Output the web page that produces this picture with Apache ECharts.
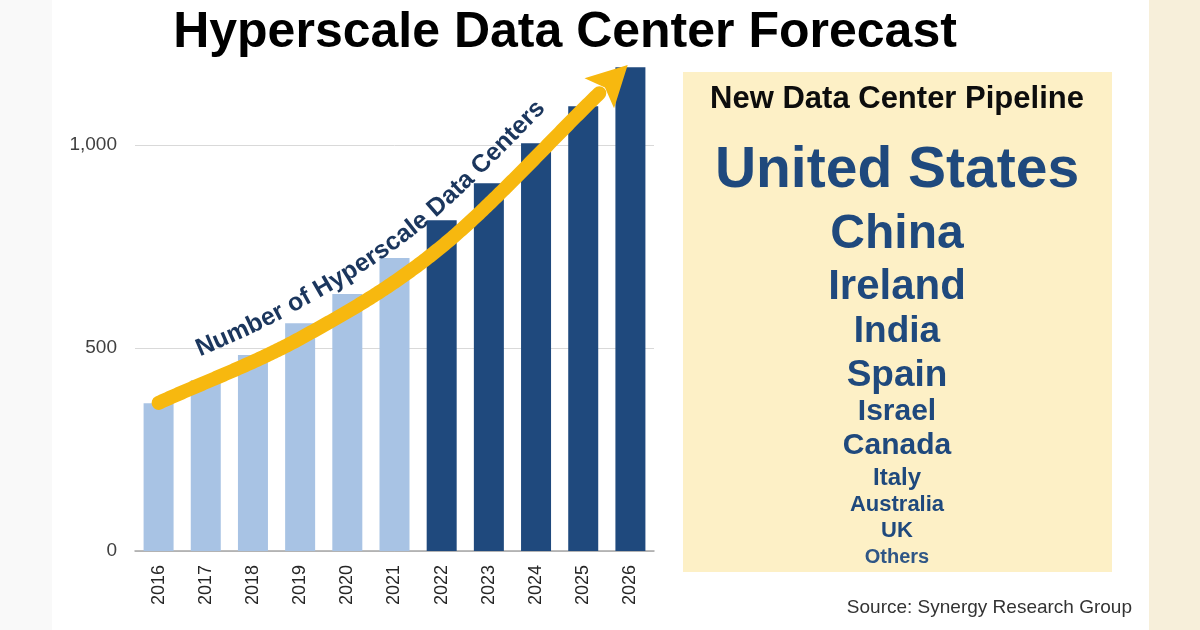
<!DOCTYPE html>
<html><head><meta charset="utf-8">
<script src="https://cdn.jsdelivr.net/npm/echarts@6/dist/echarts.min.js"></script>
<style>html,body{margin:0;padding:0;background:#fff}#c{width:1200px;height:630px}</style>
</head><body><div id="c"></div>
<script>
// ---------- data ----------
const titleText = 'Hyperscale Data Center Forecast';
const years = ['2016','2017','2018','2019','2020','2021','2022','2023','2024','2025','2026'];
const dataCenters = [364, 421, 483, 561, 633, 722, 815, 906, 1005, 1096, 1192];
const forecastFrom = '2022';
const yTicks = [0, 500, 1000];
const arrowLabel = 'Number of Hyperscale Data Centers';
// arrow path anchors in data units: [category index, value]; the last one is where the shaft meets the head
const arrowAnchors = [[0, 365], [3.05, 527], [6.02, 752], [9.34, 1128]];
const pipelineTitle = 'New Data Center Pipeline';
const countries = ['United States','China','Ireland','India','Spain','Israel','Canada','Italy','Australia','UK','Others'];
const sourceText = 'Source: Synergy Research Group';

// ---------- styles ----------
const FONT = '"Liberation Sans", Arial, Helvetica, sans-serif';
const LIGHT = '#a8c3e4', DARK = '#1f497d', YELLOW = '#f7b80f', NAVY = '#1b365d';
const countrySizes = [57, 48, 42, 37, 37, 30, 30, 24, 22, 22, 20];
const countryY = [171, 235, 287, 332, 376, 412, 446, 478, 505, 531, 557];
const countryColors = ['#1f497d','#1f497d','#1f497d','#1f497d','#1f497d','#1f497d','#1f497d','#1f497d','#1f497d','#1f497d','#2f5686'];

const chart = echarts.init(document.getElementById('c'), null, {renderer: 'canvas'});
const option = {
  animation: false,
  backgroundColor: '#ffffff',
  grid: {left: 135, right: 1200 - 654, top: 64, bottom: 79},
  xAxis: {
    type: 'category', data: years,
    axisTick: {show: false},
    axisLine: {lineStyle: {color: '#a6a6a6', width: 1.5}},
    axisLabel: {rotate: 90, fontSize: 18, color: '#262626', fontFamily: FONT, margin: 14}
  },
  yAxis: {
    type: 'value', min: 0, max: 1200, interval: 500,
    axisLine: {show: false}, axisTick: {show: false},
    splitLine: {show: true, lineStyle: {color: ['#d9d9d9','#d9d9d9','#d9d9d9','rgba(0,0,0,0)'], width: 1}},
    axisLabel: {
      formatter: v => yTicks.includes(v) ? v.toLocaleString('en-US') : '',
      fontSize: 19, color: '#404040', fontFamily: FONT, margin: 18
    }
  },
  series: [{
    type: 'bar', barWidth: 30,
    data: dataCenters.map((v, i) => ({value: v, itemStyle: {color: years[i] >= forecastFrom ? DARK : LIGHT}}))
  }]
};
chart.setOption(option);

// ---------- annotations ----------
function px(idx, val) {
  const x0 = chart.convertToPixel({xAxisIndex: 0}, years[0]);
  const x1 = chart.convertToPixel({xAxisIndex: 0}, years[years.length - 1]);
  return [x0 + (x1 - x0) * idx / (years.length - 1), chart.convertToPixel({yAxisIndex: 0}, val)];
}
const A = arrowAnchors.map(a => px(a[0], a[1]));
// Catmull-Rom sampling through anchors
const path = [];
(function () {
  const n = A.length, steps = 80;
  const get = i => A[Math.max(0, Math.min(n - 1, i))];
  for (let i = 0; i < n - 1; i++) {
    const p0 = i === 0 ? [2 * A[0][0] - A[1][0], 2 * A[0][1] - A[1][1]] : get(i - 1);
    const p1 = get(i), p2 = get(i + 1);
    const p3 = i + 2 > n - 1 ? [2 * A[n - 1][0] - A[n - 2][0], 2 * A[n - 1][1] - A[n - 2][1]] : get(i + 2);
    for (let s = 0; s < steps; s++) {
      const t = s / steps, t2 = t * t, t3 = t2 * t;
      const f = k => 0.5 * ((2 * p1[k]) + (-p0[k] + p2[k]) * t + (2 * p0[k] - 5 * p1[k] + 4 * p2[k] - p3[k]) * t2 + (-p0[k] + 3 * p1[k] - 3 * p2[k] + p3[k]) * t3);
      path.push([f(0), f(1)]);
    }
  }
  path.push(A[n - 1].slice());
})();

const graphics = [];
graphics.push({type: 'rect', silent: true, z: -10, shape: {x: 0, y: 0, width: 52, height: 630}, style: {fill: '#f9f9f9'}});
graphics.push({type: 'rect', silent: true, z: -10, shape: {x: 1149, y: 0, width: 51, height: 630}, style: {fill: '#f7efda'}});
graphics.push({type: 'rect', silent: true, z: -5, shape: {x: 683, y: 72, width: 429, height: 500}, style: {fill: '#fdf0c6'}});
graphics.push({type: 'text', silent: true, x: 565, y: 33, style: {text: titleText, fontSize: 50, fontWeight: 'bold', fontFamily: FONT, fill: '#000', align: 'center', verticalAlign: 'middle', textAlign: 'center', textVerticalAlign: 'middle'}});
graphics.push({type: 'text', silent: true, x: 897, y: 99, style: {text: pipelineTitle, fontSize: 31, fontWeight: 'bold', fontFamily: FONT, fill: '#0d0d0d', align: 'center', verticalAlign: 'middle', textAlign: 'center', textVerticalAlign: 'middle'}});
countries.forEach((c, i) => {
  graphics.push({type: 'text', silent: true, x: 897, y: countryY[i], style: {text: c, fontSize: countrySizes[i], fontWeight: 'bold', fontFamily: FONT, fill: countryColors[i], align: 'center', verticalAlign: 'middle', textAlign: 'center', textVerticalAlign: 'middle'}});
});
graphics.push({type: 'text', silent: true, x: 1132, y: 608, style: {text: sourceText, fontSize: 19, fontFamily: FONT, fill: '#333333', align: 'right', verticalAlign: 'middle', textAlign: 'right', textVerticalAlign: 'middle'}});

// shaft
graphics.push({type: 'polyline', silent: true, z: 50, shape: {points: path},
  style: {stroke: YELLOW, lineWidth: 14, lineCap: 'round', lineJoin: 'round', fill: null}});
// head
(function () {
  const b = path[path.length - 1], a = path[path.length - 12];
  const dx = b[0] - a[0], dy = b[1] - a[1], L = Math.hypot(dx, dy);
  const ux = dx / L, uy = dy / L, nx = -uy, ny = ux;
  const headLen = 40, halfW = 21, notch = 8;
  const tip = [b[0] + ux * headLen, b[1] + uy * headLen];
  const w1 = [b[0] + nx * halfW, b[1] + ny * halfW];
  const w2 = [b[0] - nx * halfW, b[1] - ny * halfW];
  const nt = [b[0] + ux * notch, b[1] + uy * notch];
  graphics.push({type: 'polygon', silent: true, z: 51, shape: {points: [tip, w1, nt, w2]}, style: {fill: YELLOW}});
})();

// curved label along arrow
(function () {
  const size = 25, offset = 33, startS = 57;
  const font = 'bold ' + size + 'px ' + FONT;
  const ctx = document.createElement('canvas').getContext('2d');
  ctx.font = font;
  const pts = [], ang = [], cum = [0];
  for (let i = 0; i < path.length; i++) {
    const p = path[i];
    const q0 = path[Math.max(0, i - 3)], q1 = path[Math.min(path.length - 1, i + 3)];
    const dx = q1[0] - q0[0], dy = q1[1] - q0[1], L = Math.hypot(dx, dy) || 1;
    const nx = dy / L, ny = -dx / L; // up-left normal
    pts.push([p[0] + nx * offset, p[1] + ny * offset]);
    ang.push(Math.atan2(-dy, dx));
    if (i > 0) cum.push(cum[i - 1] + Math.hypot(pts[i][0] - pts[i - 1][0], pts[i][1] - pts[i - 1][1]));
  }
  function at(s) {
    let i = 1;
    while (i < cum.length - 1 && cum[i] < s) i++;
    const f = Math.max(0, Math.min(1, (s - cum[i - 1]) / ((cum[i] - cum[i - 1]) || 1)));
    return [pts[i - 1][0] + (pts[i][0] - pts[i - 1][0]) * f, pts[i - 1][1] + (pts[i][1] - pts[i - 1][1]) * f, ang[i - 1] + (ang[i] - ang[i - 1]) * f];
  }
  let prev = 0;
  for (let k = 0; k < arrowLabel.length; k++) {
    const w = ctx.measureText(arrowLabel.slice(0, k + 1)).width;
    const ch = arrowLabel[k];
    const mid = startS + (prev + w) / 2;
    prev = w;
    if (ch === ' ') continue;
    const q = at(mid);
    graphics.push({type: 'text', silent: true, z: 52, x: q[0], y: q[1], rotation: q[2],
      style: {text: ch, fontSize: size, fontWeight: 'bold', fontFamily: FONT, fill: NAVY, align: 'center', verticalAlign: 'middle', textAlign: 'center', textVerticalAlign: 'middle'}});
  }
})();

chart.setOption({graphic: {elements: graphics}});
</script></body></html>
